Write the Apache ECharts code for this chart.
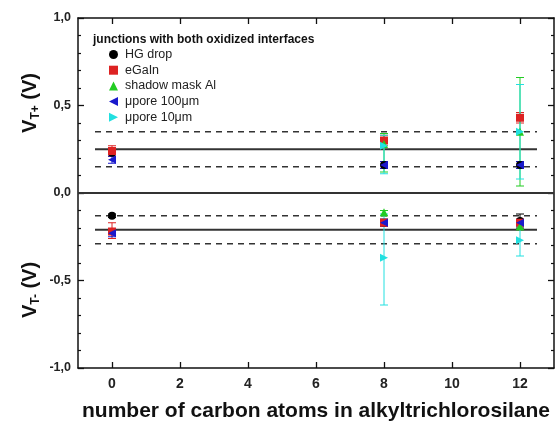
<!DOCTYPE html>
<html><head><meta charset="utf-8">
<script src="https://cdn.jsdelivr.net/npm/echarts@6/dist/echarts.min.js"></script>
<style>html,body{margin:0;padding:0;background:#fff}#c{width:558px;height:425px}</style>
</head><body><div id="c"></div>
<script>
const xTicks = [0, 2, 4, 6, 8, 10, 12];
const seriesNames = ['HG drop', 'eGaIn', 'shadow mask Al', 'μpore 100μm', 'μpore 10μm'];
// [x, value] points (upper = V_T+, lower = V_T-)
const hgDrop   = [[0, 0.23], [8, 0.16], [12, 0.16], [0, -0.13], [8, -0.17], [12, -0.16]];
const eGaIn    = [[0, 0.24], [8, 0.30], [12, 0.43], [0, -0.22], [8, -0.17], [12, -0.17]];
const shadowAl = [[8, 0.28], [12, 0.35], [8, -0.11], [12, -0.19]];
const pore100  = [[0, 0.19], [8, 0.16], [12, 0.16], [0, -0.23], [8, -0.17], [12, -0.17]];
const pore10   = [[8, 0.27], [12, 0.35], [8, -0.37], [12, -0.27]];
// error bars [x, low, high]
const hgErr    = [[0, 0.21, 0.25], [8, 0.14, 0.18], [12, 0.14, 0.18], [0, -0.14, -0.12], [8, -0.19, -0.15], [12, -0.20, -0.12]];
const eGaInErr = [[0, 0.21, 0.27], [8, 0.27, 0.33], [12, 0.40, 0.46], [0, -0.26, -0.17], [8, -0.19, -0.15], [12, -0.19, -0.15]];
const alErr    = [[8, 0.12, 0.34], [12, 0.04, 0.66], [8, -0.13, -0.10], [12, -0.21, -0.17]];
const p100Err  = [[0, 0.17, 0.21], [8, 0.14, 0.18], [12, 0.14, 0.18], [0, -0.25, -0.21], [8, -0.19, -0.15], [12, -0.19, -0.15]];
const p10Err   = [[8, 0.11, 0.33], [12, 0.08, 0.62], [8, -0.64, -0.12], [12, -0.36, -0.19]];
// reference lines
const upperMean = 0.25, upperBand = [0.15, 0.35];
const lowerMean = -0.21, lowerBand = [-0.13, -0.29];
const lineSpan = [-0.5, 12.5];

const colors = ['#000000', '#dd2222', '#22cc22', '#1a1acc', '#22e0e0'];
const symbols = ['circle', 'rect', 'triangle', 'path://M0,5 L10,0 L10,10 Z', 'path://M10,5 L0,0 L0,10 Z'];
const pts = [hgDrop, eGaIn, shadowAl, pore100, pore10];
const errs = [hgErr, eGaInErr, alErr, p100Err, p10Err];

const fmt = v => v.toFixed(1).replace('.', ',');

function errSeries(data, color) {
  return {
    type: 'custom', data: data, z: 3, silent: true,
    renderItem: function (params, api) {
      const x = api.value(0);
      const lo = api.coord([x, api.value(1)]);
      const hi = api.coord([x, api.value(2)]);
      const w = 4;
      const st = { stroke: color, lineWidth: 1 };
      return { type: 'group', children: [
        { type: 'line', shape: { x1: lo[0], y1: lo[1], x2: hi[0], y2: hi[1] }, style: st },
        { type: 'line', shape: { x1: lo[0] - w, y1: lo[1], x2: lo[0] + w, y2: lo[1] }, style: st },
        { type: 'line', shape: { x1: hi[0] - w, y1: hi[1], x2: hi[0] + w, y2: hi[1] }, style: st }
      ]};
    }
  };
}

function hline(y, dashed, x0, x1) {
  return { type: 'line', data: [[x0, y], [x1, y]], symbol: 'none', silent: true, z: 1,
    lineStyle: { color: '#333', width: dashed ? 1.6 : 1.8, type: dashed ? [6, 5] : 'solid' } };
}

const series = [];
series.push(hline(0, false, -1, 13));
series.push(hline(upperMean, false, lineSpan[0], lineSpan[1]));
series.push(hline(upperBand[0], true, lineSpan[0], lineSpan[1]));
series.push(hline(upperBand[1], true, lineSpan[0], lineSpan[1]));
series.push(hline(lowerMean, false, lineSpan[0], lineSpan[1]));
series.push(hline(lowerBand[0], true, lineSpan[0], lineSpan[1]));
series.push(hline(lowerBand[1], true, lineSpan[0], lineSpan[1]));
for (let i = 0; i < 5; i++) {
  series.push(errSeries(errs[i], colors[i]));
}
for (let i = 0; i < 5; i++) {
  series.push({ name: seriesNames[i], type: 'scatter', data: pts[i], symbol: symbols[i],
    symbolSize: 8, itemStyle: { color: colors[i], opacity: 1 }, z: 5 });
}

const axisLine = { show: true, onZero: false, lineStyle: { color: '#111', width: 1.5 } };
const chart = echarts.init(document.getElementById('c'));
chart.setOption({
  animation: false,
  backgroundColor: '#fff',
  grid: { left: 78, right: 4, top: 18, bottom: 57, containLabel: false, outerBoundsMode: 'none' },
  legend: {
    orient: 'vertical', left: 104, top: 43, itemGap: 2.7, itemWidth: 9, itemHeight: 9,
    data: seriesNames.map((n, i) => ({ name: n, icon: symbols[i] })),
    textStyle: { fontFamily: 'Liberation Sans', fontSize: 12.5, color: '#222', padding: [0, 0, 0, 2] }
  },
  graphic: [
    { type: 'text', left: 93, top: 34, style: { text: 'junctions with both oxidized interfaces', font: 'bold 12px "Liberation Sans"', fill: '#111' } },
    { type: 'text', x: 30, y: 103, rotation: Math.PI / 2,
      style: { text: '{a|V}{s|T+}{a| (V)}', align: 'center', verticalAlign: 'middle',
        rich: { a: { font: 'bold 20px "Liberation Sans"', fill: '#111' }, s: { font: 'bold 12px "Liberation Sans"', fill: '#111', padding: [12, 0, 0, 0] } } } },
    { type: 'text', x: 30, y: 290, rotation: Math.PI / 2,
      style: { text: '{a|V}{s|T-}{a| (V)}', align: 'center', verticalAlign: 'middle',
        rich: { a: { font: 'bold 20px "Liberation Sans"', fill: '#111' }, s: { font: 'bold 12px "Liberation Sans"', fill: '#111', padding: [12, 0, 0, 0] } } } }
  ],
  xAxis: [
    { type: 'value', min: -1, max: 13, position: 'bottom', splitLine: { show: false }, axisLine: axisLine,
      axisTick: { inside: true, length: 6, lineStyle: { color: '#111', width: 1.3 }, customValues: xTicks },
      axisLabel: { customValues: xTicks, margin: 9, fontFamily: 'Liberation Sans', fontWeight: 'bold', fontSize: 14, color: '#222' },
      name: 'number of carbon atoms in alkyltrichlorosilane', nameLocation: 'middle', nameGap: 33,
      nameTextStyle: { fontFamily: 'Liberation Sans', fontWeight: 'bold', fontSize: 21, color: '#111' } },
    { type: 'value', min: -1, max: 13, position: 'top', splitLine: { show: false }, axisLine: axisLine,
      axisTick: { inside: true, length: 6, lineStyle: { color: '#111', width: 1.3 }, customValues: xTicks },
      axisLabel: { show: false } }
  ],
  yAxis: [
    { type: 'value', min: -1, max: 1, interval: 0.5, position: 'left', splitLine: { show: false }, axisLine: axisLine,
      axisTick: { inside: true, length: 6, lineStyle: { color: '#111', width: 1.3 } },
      minorTick: { show: true, splitNumber: 5, length: 3, lineStyle: { color: '#111', width: 1.2 } },
      axisLabel: { formatter: fmt, margin: 7, fontFamily: 'Liberation Sans', fontWeight: 'bold', fontSize: 12.5, color: '#222' } },
    { type: 'value', min: -1, max: 1, interval: 0.5, position: 'right', splitLine: { show: false }, axisLine: axisLine,
      axisTick: { inside: true, length: 6, lineStyle: { color: '#111', width: 1.3 } },
      minorTick: { show: true, splitNumber: 5, length: 3, lineStyle: { color: '#111', width: 1.2 } },
      axisLabel: { show: false } }
  ],
  series: series
});
</script></body></html>
